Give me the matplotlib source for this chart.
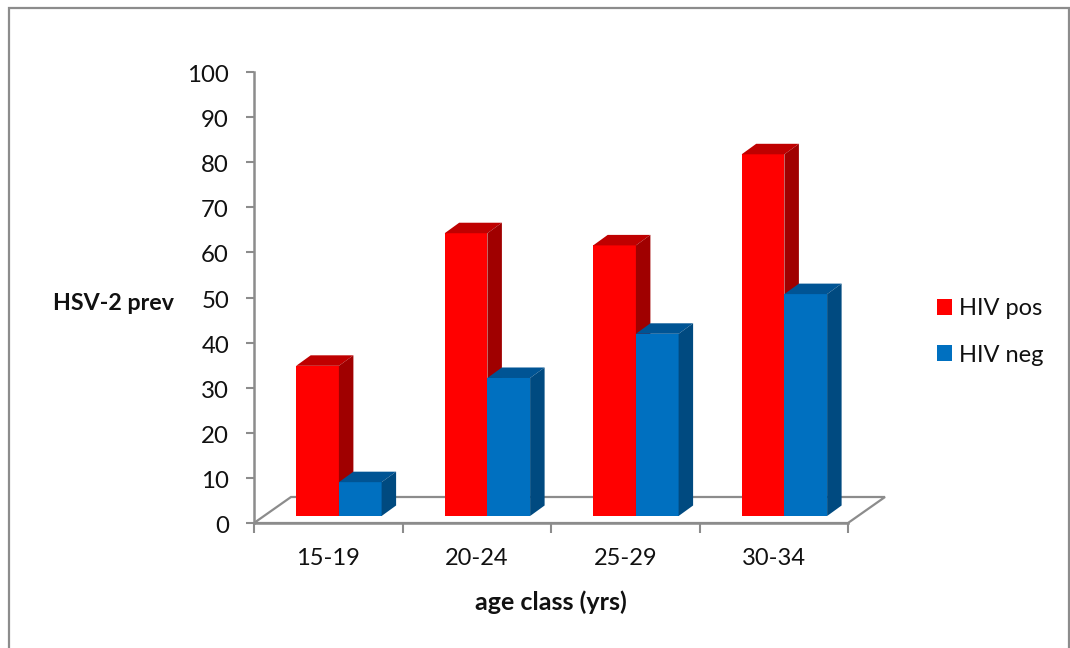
import matplotlib
matplotlib.use("Agg")
import matplotlib.pyplot as plt
from matplotlib.patches import Polygon, Rectangle
from matplotlib.transforms import ScaledTranslation

categories = ["15-19", "20-24", "25-29", "30-34"]
hiv_pos = [33.3, 62.7, 60.0, 80.2]
hiv_neg = [7.5, 30.6, 40.4, 49.2]
y_ticks = list(range(0, 101, 10))

W, H = 1070, 648
plt.rcParams["font.family"] = ["Lato", "DejaVu Sans"]
GREY = "#8c8c8c"
RED, RED_TOP, RED_SIDE = "#ff0000", "#bf0000", "#a00000"
BLUE, BLUE_TOP, BLUE_SIDE = "#0070c0", "#005494", "#004a80"

fig = plt.figure(figsize=(W / 100, H / 100), dpi=100, facecolor="white")
fig.add_artist(Rectangle((9 / W, -0.01), 1060 / W, 1 - 8 / H + 0.01, transform=fig.transFigure,
                         fill=False, ec=GREY, lw=1.6))
ax = fig.add_axes([254 / W, 1 - 523 / H, (848 - 254) / W, (523 - 72) / H])
ax.patch.set_alpha(0)
ax.set_xlim(0, 4)
ax.set_ylim(0, 100)

# pixel to data conversions for the pseudo 3-D geometry
px = 4 / (848 - 254)
py = 100 / (523 - 72)
floor_dx, floor_dy = 37 * px, 26 * py
depth_x, depth_y = 14.5 * px, 10.5 * py
base = 7 * py
bar_w = 42.7 * px
first = 42.2 * px


def bar3d(x, v, front, top, side, z):
    ax.bar(x, v, width=bar_w, bottom=base, align="edge", color=front, zorder=z, linewidth=0)
    t = base + v
    ax.add_patch(Polygon([(x, t), (x + depth_x, t + depth_y), (x + bar_w + depth_x, t + depth_y),
                          (x + bar_w, t)], fc=top, ec="none", zorder=z, clip_on=False))
    ax.add_patch(Polygon([(x + bar_w, base), (x + bar_w + depth_x, base + depth_y),
                          (x + bar_w + depth_x, t + depth_y), (x + bar_w, t)],
                         fc=side, ec="none", zorder=z, clip_on=False))


ax.add_patch(Polygon([(0, 0), (floor_dx, floor_dy), (4 + floor_dx, floor_dy), (4, 0)],
                     fill=False, ec=GREY, lw=1.6, zorder=1, clip_on=False))
for i, (p, n) in enumerate(zip(hiv_pos, hiv_neg)):
    bar3d(i + first, p, RED, RED_TOP, RED_SIDE, 3)
    bar3d(i + first + bar_w, n, BLUE, BLUE_TOP, BLUE_SIDE, 4)

for s in ("top", "right"):
    ax.spines[s].set_visible(False)
for s in ("left", "bottom"):
    ax.spines[s].set_color(GREY)
    ax.spines[s].set_linewidth(1.8)

ax.set_yticks(y_ticks)
ax.set_xticks(range(5))
ax.set_xticklabels([])
ax.set_xticks([i + 0.5 for i in range(4)], minor=True)
ax.set_xticklabels(categories, minor=True)
ax.tick_params(axis="x", which="major", length=7, width=1.5, color=GREY)
ax.tick_params(axis="x", which="minor", length=0, labelsize=17, pad=18, labelcolor="#111111")
ax.tick_params(axis="y", length=6, width=1.5, color=GREY, labelsize=17.3, pad=12, labelcolor="#111111")
down = ScaledTranslation(0, -1.5 / 100, fig.dpi_scale_trans)
for lab in ax.get_yticklabels():
    lab.set_transform(lab.get_transform() + down)

fig.text(113.5 / W, 1 - 303 / H, "HSV-2 prev", ha="center", va="center", fontsize=16.7,
         fontweight="bold", color="#111111")
fig.text(551 / W, 1 - 602 / H, "age class (yrs)", ha="center", va="center", fontsize=18,
         fontweight="bold", color="#111111")

handles = [Rectangle((0, 0), 1, 1, fc=RED, ec="none"), Rectangle((0, 0), 1, 1, fc=BLUE, ec="none")]
fig.legend(handles, ["HIV pos", "HIV neg"], loc="center left",
           bbox_to_anchor=(937 / W, 1 - 332 / H), frameon=False, fontsize=17,
           handlelength=0.64, handleheight=0.64, handletextpad=0.3, labelspacing=1.06,
           borderpad=0, borderaxespad=0, labelcolor="#111111")

fig.savefig("out.png", dpi=100)
